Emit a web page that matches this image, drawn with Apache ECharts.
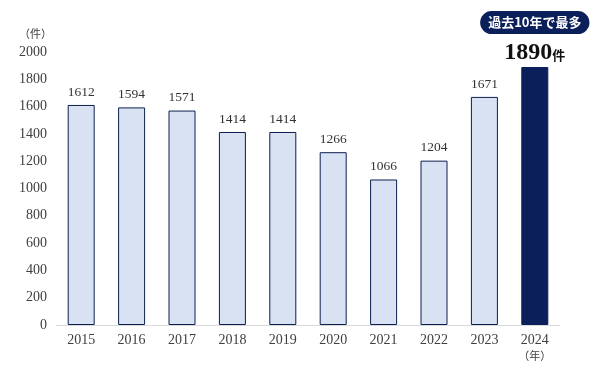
<!DOCTYPE html>
<html><head><meta charset="utf-8">
<script src="https://cdn.jsdelivr.net/npm/echarts@6/dist/echarts.min.js"></script>
<style>html,body{margin:0;padding:0;background:#fff}#c{width:600px;height:375px}</style>
</head><body><div id="c"></div>
<script>
const years = ['2015','2016','2017','2018','2019','2020','2021','2022','2023','2024'];
const counts = [1612,1594,1571,1414,1414,1266,1066,1204,1671,1890];
const yTicks = [0,200,400,600,800,1000,1200,1400,1600,1800,2000];
const badgeText = '過去10年で最多';
const unitText = '件';

const serif = '"Liberation Serif","DejaVu Serif","Noto Sans CJK JP",serif';
const cjk = '"Noto Sans CJK JP",sans-serif';
const data = counts.map((v,i)=>{
  if(i===counts.length-1){
    return {value:v,itemStyle:{color:'#0b1f5a',borderColor:'#0b1f5a'},
      label:{formatter:'{badge|'+badgeText+'}\n{num|'+v+'}{unit|'+unitText+'}',distance:1}};
  }
  return v;
});
const chart = echarts.init(document.getElementById('c'));
chart.setOption({
  animation:false,
  grid:{left:56,right:40,top:52,bottom:50},
  xAxis:{type:'category',data:years,
    axisLine:{lineStyle:{color:'#d9d9d9'}},axisTick:{show:false},
    axisLabel:{interval:0,color:'#404040',fontFamily:serif,fontSize:14,margin:8,lineHeight:15,
      formatter:(v,i)=> i===years.length-1 ? v+'\n{u|（年）}' : v,
      rich:{u:{fontFamily:cjk,fontSize:11,color:'#404040',lineHeight:15}}}},
  yAxis:{type:'value',min:yTicks[0],max:yTicks[yTicks.length-1],interval:200,
    name:'（件）',nameLocation:'end',nameGap:13,
    nameTextStyle:{color:'#404040',fontFamily:cjk,fontSize:11,align:'right',padding:[0,4,0,0]},
    axisLine:{show:false},axisTick:{show:false},splitLine:{show:false},
    axisLabel:{color:'#404040',fontFamily:serif,fontSize:14,margin:9,formatter:v=>String(v)}},
  series:[{type:'bar',data:data,barWidth:27,
    itemStyle:{color:'#d9e2f3',borderColor:'#0d1f4f',borderWidth:1},
    label:{show:true,position:'top',distance:6,color:'#333',fontFamily:serif,fontSize:13.5,
      rich:{
        badge:{backgroundColor:'#0b1f5a',color:'#fff',fontFamily:cjk,fontWeight:'bold',fontSize:13,
          borderRadius:12,padding:[5,8,5,8],align:'center'},
        num:{fontFamily:serif,fontWeight:'bold',fontSize:24,color:'#111',lineHeight:32,padding:[6,0,0,0]},
        unit:{fontFamily:cjk,fontWeight:'bold',fontSize:13,color:'#111',lineHeight:32,padding:[10,0,0,0]}
      }}}]
});
</script></body></html>
